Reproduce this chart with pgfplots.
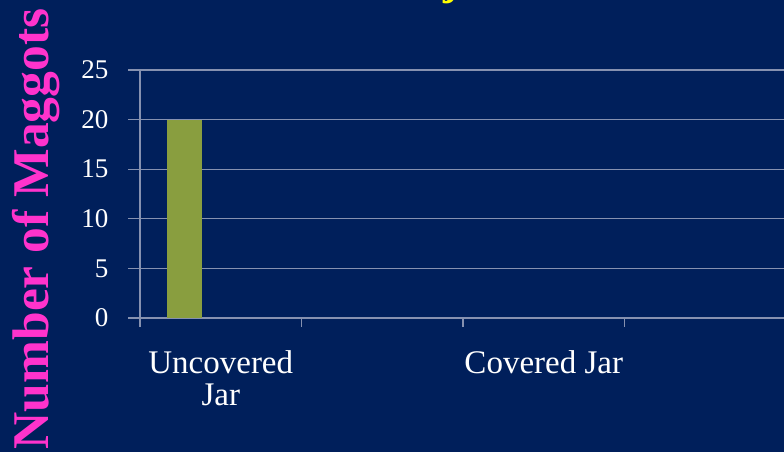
\documentclass[border=0pt]{standalone}
\usepackage{fontspec}
\setmainfont{Liberation Serif}
\usepackage{pgfplots}
\pgfplotsset{compat=1.18}
\definecolor{bg}{RGB}{0,31,91}
\definecolor{barg}{RGB}{137,158,63}
\definecolor{maggotpink}{RGB}{255,51,204}
\definecolor{gridc}{RGB}{134,145,176}
\definecolor{titleyellow}{RGB}{255,255,0}
\begin{document}
\begin{tikzpicture}[x=1pt,y=1pt]
\path[use as bounding box] (0,0) rectangle (784,452);
\fill[bg] (0,0) rectangle (784,452);
\begin{scope}
\clip (0,0) rectangle (784,452);
\node[anchor=base west, text=titleyellow, font=\fontsize{44}{50}\selectfont\bfseries, inner sep=0pt] at (443,457) {j};
\node[rotate=90, anchor=base, text=maggotpink, font=\fontsize{51.5}{52}\selectfont\bfseries, inner sep=0pt] at (48,223) {Number of Maggots};
\begin{axis}[
  at={(140pt,134pt)}, anchor=south west, scale only axis,
  width=644pt, height=248pt,
  xmin=-0.5, xmax=3.4876, ymin=0, ymax=25,
  axis x line*=bottom, axis y line*=left,
  axis line style={gridc, line width=1.2pt},
  ytick={0,5,10,15,20,25},
  ymajorgrids, grid style={gridc, line width=1.2pt},
  xtick={0,2}, xticklabels={Uncovered\\Jar, Covered Jar},
  minor xtick={-0.5,0.5,1.5,2.5},
  tick align=outside,
  major tick length=12pt, minor tick length=9pt,
  major x tick style={draw=none},
  every tick/.style={gridc, line width=1.2pt},
  minor tick style={gridc, line width=1.2pt},
  major y tick style={gridc, line width=1.2pt},
  /pgf/number format/assume math mode=true,
  yticklabel style={text=white, font=\fontsize{27}{28}\selectfont, xshift=-16pt},
  xticklabel style={text=white, align=center, font=\fontsize{33}{32}\selectfont, yshift=-17pt},
]
\addplot[ybar, fill=barg, draw=none, bar width=35pt, bar shift=-36pt] coordinates {(0,20)};
\end{axis}
\end{scope}
\end{tikzpicture}
\end{document}
